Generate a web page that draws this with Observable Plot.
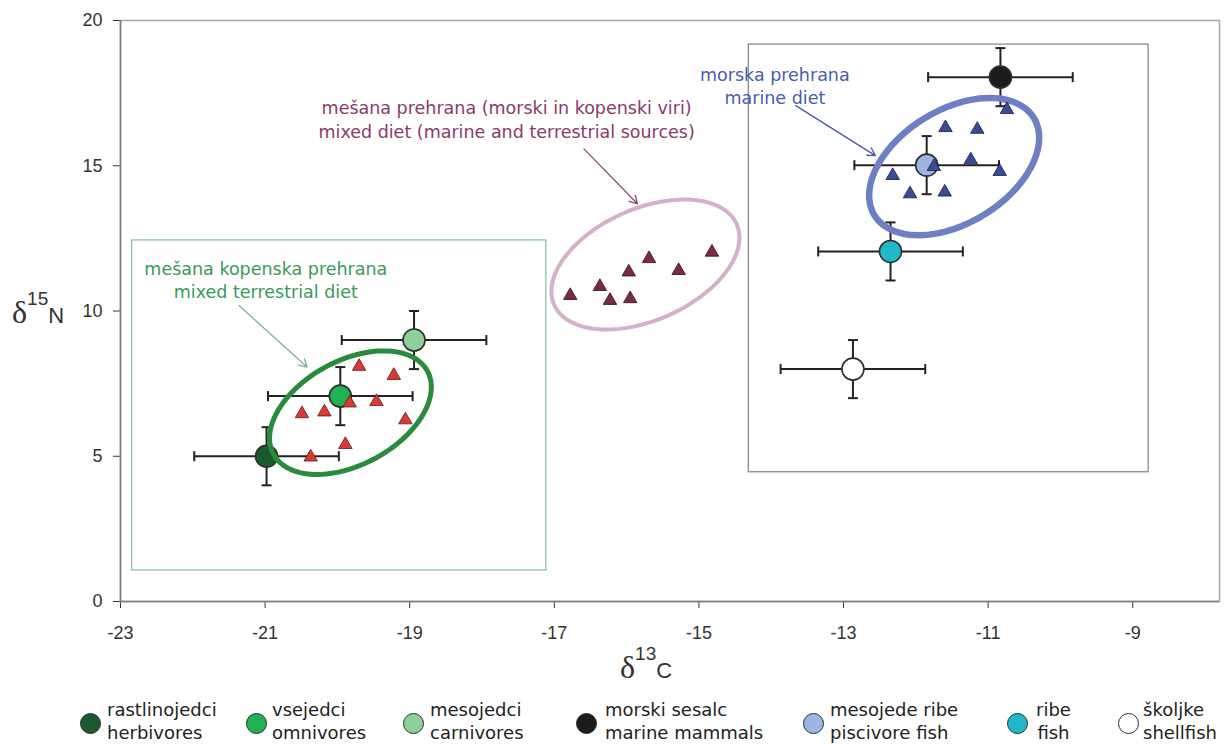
<!DOCTYPE html>
<html>
<head>
<meta charset="utf-8">
<script src="https://cdn.jsdelivr.net/npm/d3@7"></script>
<script src="https://cdn.jsdelivr.net/npm/@observablehq/plot@0.6"></script>
<style>
  body { margin: 0; background: #fff; }
  #wrap { position: relative; width: 1225px; height: 744px; overflow: hidden; background: #fff; }
  #legend { position: absolute; left: 0; top: 698px; width: 1225px; height: 46px;
            font-family: "DejaVu Sans", Verdana, sans-serif; font-size: 18px; color: #222; }
  .sw { width: 21px; height: 21px; border-radius: 50%; border: 1.6px solid #2a2a2a; box-sizing: border-box; position: absolute; }
  .lbl { position: absolute; line-height: 23px; white-space: nowrap; top: 0; }
</style>
</head>
<body>
<div id="wrap">
  <div id="chart"></div>
  <div id="legend"></div>
</div>
<script>
// ---------- data ----------
const groupSlo = ["rastlinojedci", "vsejedci", "mesojedci", "morski sesalc", "mesojede ribe", "ribe", "školjke"];
const groupEng = ["herbivores", "omnivores", "carnivores", "marine mammals", "piscivore fish", "fish", "shellfish"];
const meanC = [-20.98, -19.96, -18.94, -10.83, -11.85, -12.35, -12.87];
const meanN = [5.0, 7.07, 9.0, 18.05, 15.02, 12.05, 8.0];
const sdC = [1, 1, 1, 1, 1, 1, 1];
const sdN = [1, 1, 1, 1, 1, 1, 1];
const groupColors = ["#1b5a2e", "#1fb152", "#8fd09a", "#1c1c1c", "#9db5e3", "#20b9cb", "#ffffff"];

// human samples: mixed terrestrial diet
const terrC = [-19.70, -19.22, -20.49, -20.18, -19.83, -19.46, -19.06, -19.89, -20.37];
const terrN = [8.09, 7.78, 6.46, 6.52, 6.83, 6.88, 6.25, 5.40, 4.97];
// human samples: mixed diet (marine and terrestrial)
const mixC = [-16.78, -16.37, -16.23, -15.95, -15.97, -15.69, -15.28, -14.82];
const mixN = [10.53, 10.84, 10.36, 10.42, 11.34, 11.80, 11.39, 12.02];
// human samples: marine diet
const marC = [-10.74, -11.59, -11.15, -11.75, -11.24, -10.84, -12.32, -12.08, -11.60];
const marN = [16.93, 16.31, 16.25, 14.97, 15.20, 14.80, 14.66, 14.03, 14.09];

const xTicks = [-23, -21, -19, -17, -15, -13, -11, -9];
const yTicks = [0, 5, 10, 15, 20];

// annotation boxes (data coordinates)
const boxes = [
  {x1: -22.84, x2: -17.11, y1: 1.07, y2: 12.43, stroke: "#8cc0b2"},
  {x1: -14.31, x2: -8.78, y1: 4.45, y2: 19.17, stroke: "#8a8a8a"}
];
// ellipses: centre in data units, semi-axes (px) and tilt (deg)
const ellipses = [
  {x: -19.82, y: 6.50, a: 87.5, b: 52, angle: 28.3, stroke: "#2a8b3c", w: 5},
  {x: -15.74, y: 11.60, a: 99.8, b: 55.8, angle: 23.8, stroke: "#d6afca", w: 4},
  {x: -11.47, y: 14.97, a: 93.4, b: 56.7, angle: 31.4, stroke: "#6f80c2", w: 6.5}
];
const notes = [
  {x: -20.99, y: 11.10, text: "mešana kopenska prehrana\nmixed terrestrial diet", fill: "#3a9a5c"},
  {x: -17.66, y: 16.63, text: "mešana prehrana (morski in kopenski viri)\nmixed diet (marine and terrestrial sources)", fill: "#8a3a6c"},
  {x: -13.95, y: 17.78, text: "morska prehrana\nmarine diet", fill: "#4a5cb0"}
];
const arrows = [
  {x1: -21.36, y1: 10.19, x2: -20.42, y2: 8.07, stroke: "#86aca4"},
  {x1: -16.59, y1: 15.58, x2: -15.85, y2: 13.69, stroke: "#8a4a74"},
  {x1: -13.66, y1: 17.07, x2: -12.56, y2: 15.35, stroke: "#4a5aa8"}
];

// ---------- build ----------
const means = groupSlo.map((s, i) => ({
  name: s, x: meanC[i], y: meanN[i],
  x1: meanC[i] - sdC[i], x2: meanC[i] + sdC[i],
  y1: meanN[i] - sdN[i], y2: meanN[i] + sdN[i],
  color: groupColors[i]
}));
const terr = terrC.map((c, i) => ({x: c, y: terrN[i]}));
const mix = mixC.map((c, i) => ({x: c, y: mixN[i]}));
const mar = marC.map((c, i) => ({x: c, y: marN[i]}));

const vcap = {draw(ctx, size) { const r = Math.sqrt(size / Math.PI); ctx.moveTo(0, -r); ctx.lineTo(0, r); }};
const hcap = {draw(ctx, size) { const r = Math.sqrt(size / Math.PI); ctx.moveTo(-r, 0); ctx.lineTo(r, 0); }};
const ellipseSymbol = (a, b, deg) => ({
  draw(ctx) {
    const t0 = deg * Math.PI / 180, n = 96;
    for (let k = 0; k <= n; k++) {
      const t = k / n * 2 * Math.PI;
      const px = a * Math.cos(t) * Math.cos(t0) - b * Math.sin(t) * Math.sin(t0);
      const py = -(a * Math.cos(t) * Math.sin(t0) + b * Math.sin(t) * Math.cos(t0));
      if (k === 0) ctx.moveTo(px, py); else ctx.lineTo(px, py);
    }
    ctx.closePath();
  }
});

const chart = Plot.plot({
  width: 1225,
  height: 698,
  marginLeft: 120,
  marginRight: 6,
  marginTop: 20,
  marginBottom: 97,
  style: {fontFamily: "Liberation Sans, Arial, sans-serif", fontSize: "18px", color: "#333", background: "#fff"},
  x: {domain: [-23, -7.8], ticks: xTicks, tickSize: 7, tickPadding: 18, tickFormat: d => String(d), label: null},
  y: {domain: [0, 20], ticks: yTicks, tickSize: 7, tickPadding: 11, tickFormat: d => String(d), label: null},
  color: {type: "identity"},
  marks: [
    Plot.frame({stroke: "#a8a8a8", strokeWidth: 1.5}),
    Plot.ruleX([-23], {stroke: "#7a7a7a", strokeWidth: 1.5}),
    Plot.ruleY([0], {stroke: "#7a7a7a", strokeWidth: 1.5}),
    Plot.rect(boxes, {x1: "x1", x2: "x2", y1: "y1", y2: "y2", fill: "none", stroke: "stroke", strokeWidth: 1.3}),
    // error bars
    Plot.ruleY(means, {y: "y", x1: "x1", x2: "x2", stroke: "#222", strokeWidth: 2}),
    Plot.ruleX(means, {x: "x", y1: "y1", y2: "y2", stroke: "#222", strokeWidth: 2}),
    Plot.dot(means, {x: "x1", y: "y", symbol: vcap, r: 5, fill: "none", stroke: "#222", strokeWidth: 2}),
    Plot.dot(means, {x: "x2", y: "y", symbol: vcap, r: 5, fill: "none", stroke: "#222", strokeWidth: 2}),
    Plot.dot(means, {x: "x", y: "y1", symbol: hcap, r: 5, fill: "none", stroke: "#222", strokeWidth: 2}),
    Plot.dot(means, {x: "x", y: "y2", symbol: hcap, r: 5, fill: "none", stroke: "#222", strokeWidth: 2}),
    Plot.dot(means, {x: "x", y: "y", r: 11, fill: "color", stroke: "#2e2e2e", strokeWidth: 1.6}),
    // ellipses
    ...ellipses.map(e => Plot.dot([e], {x: "x", y: "y", r: 5, symbol: ellipseSymbol(e.a, e.b, e.angle),
      fill: "none", stroke: e.stroke, strokeWidth: e.w})),
    // human samples
    Plot.dot(terr, {x: "x", y: "y", symbol: "triangle", r: 5, fill: "#d83b36", stroke: "#5e1a17", strokeWidth: 0.8}),
    Plot.dot(mix, {x: "x", y: "y", symbol: "triangle", r: 5, fill: "#7a2a4c", stroke: "#2e0f1c", strokeWidth: 0.8}),
    Plot.dot(mar, {x: "x", y: "y", symbol: "triangle", r: 5, fill: "#3a4c96", stroke: "#141c48", strokeWidth: 0.8}),
    // annotations
    Plot.arrow(arrows, {x1: "x1", y1: "y1", x2: "x2", y2: "y2", stroke: "stroke", strokeWidth: 1.3, headLength: 10}),
    Plot.text(notes, {x: "x", y: "y", text: "text", fill: "fill", fontSize: 17.5, lineHeight: 1.34,
      fontFamily: "DejaVu Sans, Verdana, sans-serif", lineAnchor: "middle", textAnchor: "middle"})
  ]
});
document.getElementById("chart").appendChild(chart);

// axis titles with super/subscripts
const svg = d3.select(chart);
const ty = svg.append("text").attr("x", 12).attr("y", 323).attr("fill", "#333").attr("text-anchor", "start");
ty.append("tspan").attr("font-family", "Liberation Serif, serif").attr("font-size", 32).text("δ");
ty.append("tspan").attr("font-family", "Liberation Sans, sans-serif").attr("font-size", 19).attr("dy", -18).text("15");
ty.append("tspan").attr("font-family", "Liberation Sans, sans-serif").attr("font-size", 22).attr("dy", 18).text("N");
const tx = svg.append("text").attr("x", 620).attr("y", 678).attr("fill", "#333").attr("text-anchor", "start");
tx.append("tspan").attr("font-family", "Liberation Serif, serif").attr("font-size", 32).text("δ");
tx.append("tspan").attr("font-family", "Liberation Sans, sans-serif").attr("font-size", 19).attr("dy", -18).text("13");
tx.append("tspan").attr("font-family", "Liberation Sans, sans-serif").attr("font-size", 22).attr("dy", 18).text("C");

// legend
const legendPos = [{cx: 90, tx: 107}, {cx: 256, tx: 272}, {cx: 413, tx: 430}, {cx: 586, tx: 605},
                   {cx: 813, tx: 830}, {cx: 1017, tx: 1036}, {cx: 1128, tx: 1143}];
const legend = document.getElementById("legend");
groupSlo.forEach((s, i) => {
  const sw = document.createElement("div");
  sw.className = "sw";
  sw.style.background = groupColors[i];
  sw.style.left = (legendPos[i].cx - 10.5) + "px";
  sw.style.top = (25 - 10.5) + "px";
  legend.appendChild(sw);
  const lb = document.createElement("div");
  lb.className = "lbl";
  lb.style.left = legendPos[i].tx + "px";
  if (s === "ribe") lb.style.textAlign = "center";
  lb.innerHTML = s + "<br>" + groupEng[i];
  legend.appendChild(lb);
});
</script>
</body>
</html>
